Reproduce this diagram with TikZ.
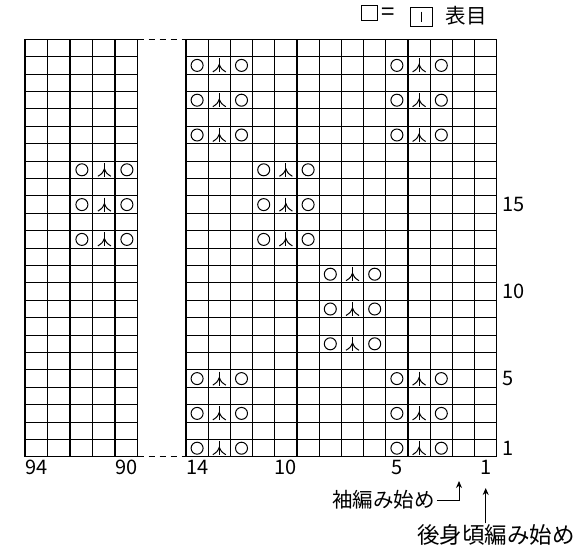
\documentclass[tikz,border=0pt]{standalone}
\usepackage{fontspec}
\setmainfont{Noto Sans CJK JP}
\usetikzlibrary{positioning,arrows.meta}

% yarn over, central double decrease, yarn over
% #1,#2 = centre of the middle cell, #3 = cell width
\newcommand\knitgroup[3]{%
  \draw[symbol] (#1-#3,#2) circle (6pt);
  \draw[symbol] (#1,#2-7) -- (#1,#2+7);
  \draw[symbol] (#1-6.5,#2+6.5) .. controls (#1-2,#2+3.5) .. (#1,#2-1)
                .. controls (#1+2,#2+3.5) .. (#1+6.5,#2+6.5);
  \draw[symbol] (#1+#3,#2) circle (6pt);}

\begin{document}
\begin{tikzpicture}[x=1pt, y=-1pt,
    gridline/.style={line width=1.1pt},
    symbol/.style={line width=1pt},
    gapline/.style={line width=1pt, dash pattern=on 6pt off 5pt},
    numlabel/.style={font=\fontsize{20}{20}\selectfont, inner sep=0pt},
    note/.style={font=\fontsize{20.5}{21}\selectfont, inner sep=0pt},
    pointer/.style={line width=1pt, -{Stealth[length=7pt, width=6pt]}}
]
\useasboundingbox (0,0) rectangle (585,554);

% legend
\node (blank) [draw, line width=1pt, minimum width=16pt, minimum height=15pt, inner sep=0pt] at (369,13) {};
\node (eq) [note, font=\fontsize{24}{24}\selectfont] at (388.5,14.5) {=};
\node (knit) [draw, line width=1pt, minimum width=22pt, minimum height=19pt, inner sep=0pt] at (421,16.5) {};
\draw [symbol] (421,11.5) -- (421,21.5);
\node (omote) [note] at (466,16) {表目};

% left block, stitches 94-90
\foreach \i in {0,...,5} \draw [gridline] (25+\i*22.5,39.3) -- (25+\i*22.5,456.9);
\foreach \j in {0,...,24} \draw [gridline] (25,39.3+\j*17.4) -- (137.5,39.3+\j*17.4);
% right block, stitches 14-1
\foreach \i in {0,...,14} \draw [gridline] (186+\i*22.2,39.3) -- (186+\i*22.2,456.9);
\foreach \j in {0,...,24} \draw [gridline] (186,39.3+\j*17.4) -- (496.8,39.3+\j*17.4);
% omitted stitches
\draw [gapline] (137.5,39.3) -- (186,39.3);
\draw [gapline] (137.5,456.9) -- (186,456.9);

% lace motifs
\foreach \c/\r in {1/1,1/3,1/5,10/1,10/3,10/5,7/7,7/9,7/11,4/13,4/15,4/17,
                   1/19,1/21,1/23,10/19,10/21,10/23} {
  \pgfmathsetmacro\gx{186+(\c+0.5)*22.2}
  \pgfmathsetmacro\gy{456.9-(\r-0.5)*17.4}
  \knitgroup{\gx}{\gy}{22.2}
}
\foreach \r in {13,15,17} {
  \pgfmathsetmacro\gy{456.9-(\r-0.5)*17.4}
  \knitgroup{104.4}{\gy}{22.5}
}

% stitch numbers
\node (c94) [numlabel] at (36.2,467.5) {94};
\node (c90) [numlabel] at (126.2,467.5) {90};
\node (c14) [numlabel] at (197.1,467.5) {14};
\node (c10) [numlabel] at (285.9,467.5) {10};
\node (c5) [numlabel] at (397,467.5) {5};
\node (c1) [numlabel] at (485.7,467.5) {1};

% row numbers
\node (r1) [numlabel, anchor=west] at (502.5,448.2) {1};
\node (r5) [numlabel, anchor=west] at (502.5,378.6) {5};
\node (r10) [numlabel, anchor=west] at (502.5,291.6) {10};
\node (r15) [numlabel, anchor=west] at (502.5,204.6) {15};

% where to start
\node (sleeve) [note] at (383.5,500) {袖編み始め};
\node (body) [note, font=\fontsize{22.5}{23}\selectfont] at (496,535) {後身頃編み始め};
\coordinate (sleevetip) at (459,481);
\coordinate (bodytip) at (485.7,488);
\draw [pointer] ([xshift=2pt]sleeve.east) -| (sleevetip);
\draw [pointer] ([yshift=1pt]body.north -| bodytip) -- (bodytip);
\end{tikzpicture}
\end{document}
